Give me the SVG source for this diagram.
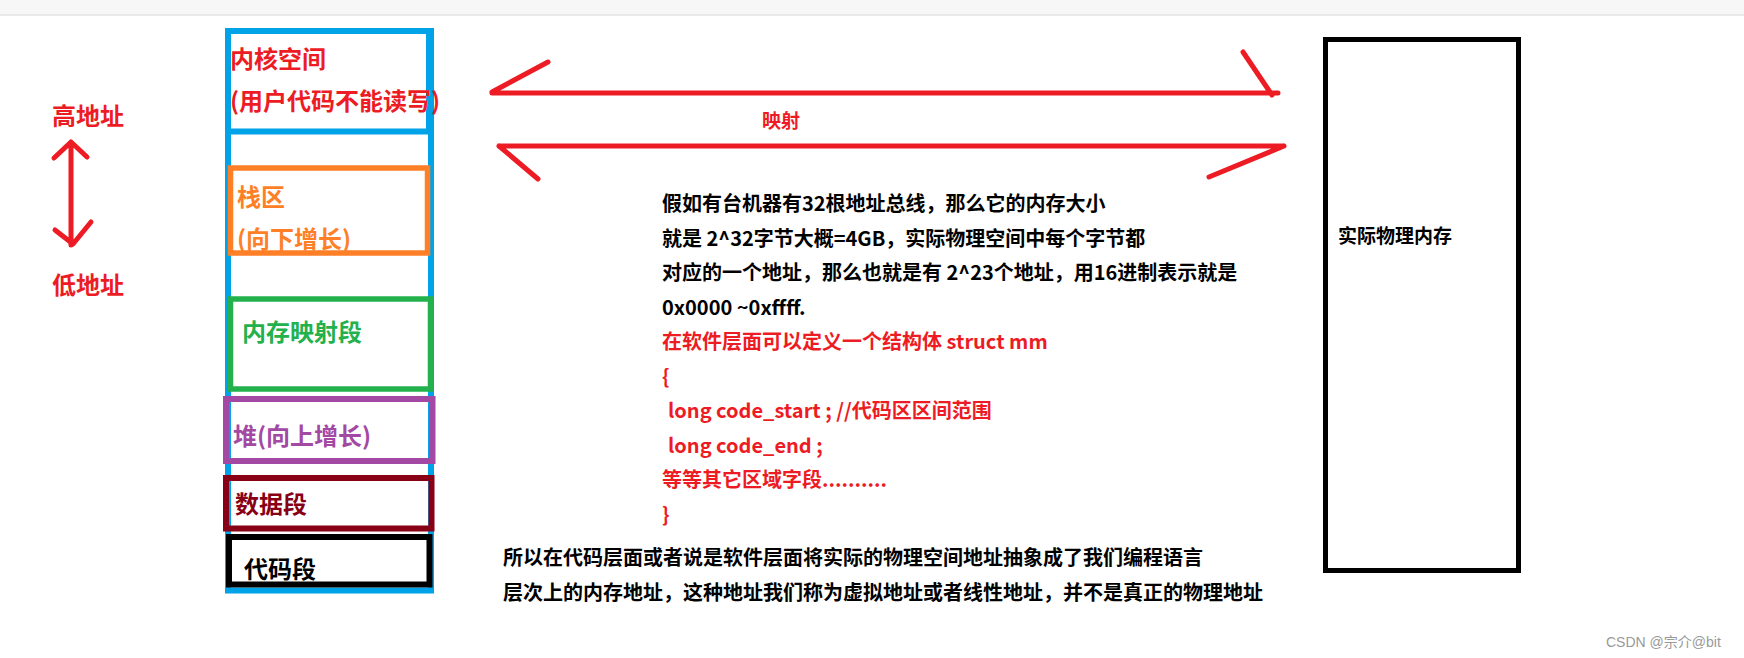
<svg xmlns="http://www.w3.org/2000/svg" width="1744" height="658" viewBox="0 0 1744 658">
<style>
text{font-family:"Microsoft YaHei","Noto Sans CJK SC","Noto Sans",sans-serif;font-weight:bold}
.l{font-size:24px}
.m{font-size:20px}
.red{fill:#ED1C24}
.blk{fill:#000}
.box{fill:none}
.arrow{stroke:#ED1C24;stroke-width:5;fill:none;stroke-linecap:round;stroke-linejoin:round}
</style>
<rect x="0" y="0" width="1744" height="658" fill="#fff"/>
<rect x="0" y="0" width="1744" height="15" fill="#f7f7f7"/>
<line x1="0" y1="15" x2="1744" y2="15" stroke="#e3e3e3" stroke-width="1.5"/>

<g id="addr-labels">
<text class="l red" x="52" y="125">高地址</text>
<text class="l red" x="52" y="294">低地址</text>
</g>

<g id="memory-layout">
<rect class="box" x="228" y="31" width="203" height="559.5" stroke="#00A2E8" stroke-width="6"/>
</g>
<g id="kernel">
<rect class="box" x="228" y="31" width="201" height="100.5" stroke="#00A2E8" stroke-width="6"/>
<text class="l red" x="230" y="68">内核空间</text>
<text class="l red" x="230" y="110">(用户代码不能读写)</text>
</g>
<g id="stack">
<rect class="box" x="230.5" y="168" width="197" height="85" stroke="#FF7F27" stroke-width="5.5"/>
<text class="l" fill="#FF7F27" x="237" y="206">栈区</text>
<text class="l" fill="#FF7F27" x="237" y="248">(向下增长)</text>
</g>
<g id="mmap">
<rect class="box" x="230.5" y="299" width="200" height="90" stroke="#22B14C" stroke-width="5.5"/>
<text class="l" fill="#22B14C" x="242" y="341">内存映射段</text>
</g>
<g id="heap">
<rect class="box" x="226" y="399" width="206.5" height="62" stroke="#A349A4" stroke-width="6"/>
<text class="l" fill="#A349A4" x="233" y="445">堆(向上增长)</text>
</g>
<g id="data">
<rect class="box" x="226" y="478" width="205.5" height="50.5" stroke="#880015" stroke-width="6"/>
<text class="l" fill="#880015" x="235" y="513">数据段</text>
</g>
<g id="code">
<rect class="box" x="229" y="537" width="200.5" height="47.5" stroke="#000" stroke-width="6"/>
<text class="l blk" x="244" y="578">代码段</text>
</g>

<g id="physical-memory">
<rect class="box" x="1325.5" y="39.5" width="193" height="531" stroke="#000" stroke-width="5"/>
<text class="blk" font-size="19" x="1338" y="243">实际物理内存</text>
</g>

<g id="connectors">
<path class="arrow" stroke-width="6" d="M71,142 V245 M54,158 L71,142 L87,157 M55,230 L73,244 L91,222"/>
<path class="arrow" d="M492,93 H1278 M492,92 L548,62 M1243,52 L1272,95"/>
<path class="arrow" d="M499,146 H1284 M499,146 L538,179 M1284,146 L1209,177"/>
<text class="red" font-size="19" x="762" y="128">映射</text>
</g>

<g id="explanation">
<text class="m blk" x="662" y="211">假如有台机器有32根地址总线，那么它的内存大小</text>
<text class="m blk" x="662" y="245.5">就是 2^32字节大概=4GB，实际物理空间中每个字节都</text>
<text class="m blk" x="662" y="280">对应的一个地址，那么也就是有 2^23个地址，用16进制表示就是</text>
<text class="m blk" x="662" y="314.5">0x0000 ~0xffff.</text>
<text class="m red" x="662" y="349">在软件层面可以定义一个结构体 struct mm</text>
<text class="m red" x="662" y="383.5">{</text>
<text class="m red" x="668" y="418">long code_start ; //代码区区间范围</text>
<text class="m red" x="668" y="452.5">long code_end ;</text>
<text class="m red" x="662" y="487">等等其它区域字段..........</text>
<text class="m red" x="662" y="521.5">}</text>
<text class="m blk" x="503" y="565">所以在代码层面或者说是软件层面将实际的物理空间地址抽象成了我们编程语言</text>
<text class="m blk" x="503" y="600">层次上的内存地址，这种地址我们称为虚拟地址或者线性地址，并不是真正的物理地址</text>
</g>

<text x="1606" y="647" font-size="14" fill="#999" style="font-family:'Liberation Sans','Noto Sans CJK SC',sans-serif;font-weight:normal">CSDN @宗介@bit</text>
</svg>
